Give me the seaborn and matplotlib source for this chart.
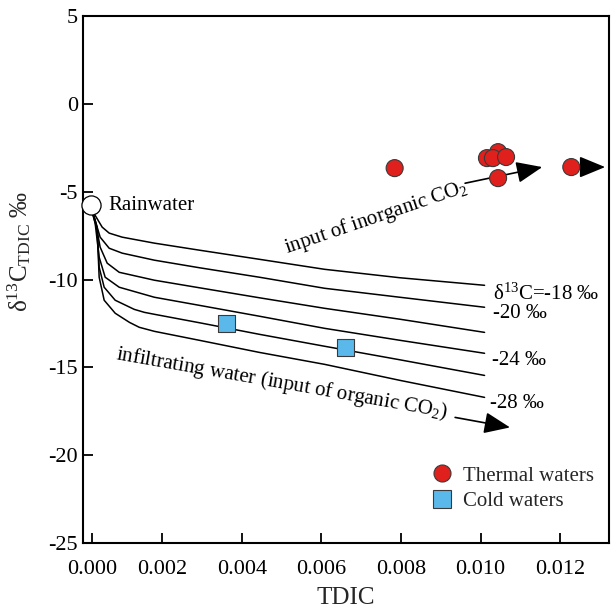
import matplotlib
matplotlib.use("Agg")
import matplotlib.pyplot as plt
import pandas as pd
import seaborn as sns

# thermal waters (red circles)
thermal_tdic = [0.00784, 0.01016, 0.01044, 0.01031, 0.01064, 0.01044, 0.01228]
thermal_d13c = [-3.66, -3.09, -2.75, -3.09, -3.03, -4.23, -3.60]

# cold waters (blue squares)
cold_tdic = [0.00361, 0.00661]
cold_d13c = [-12.49, -13.86]

# rainwater end member
rain_tdic = [0.00021]
rain_d13c = [-5.77]

# mixing curves, one per source d13C
curve_labels = ["-18", "-20", "-22", "-24", "-26", "-28"]
curve_x = [
    [0.00022, 0.000489, 0.000665, 0.000992, 0.0018, 0.00293, 0.00444, 0.00608, 0.00797, 0.0101],
    [0.00022, 0.000287, 0.000438, 0.000665, 0.000992, 0.0018, 0.00293, 0.00444, 0.00608, 0.00797, 0.0101],
    [0.00022, 0.000312, 0.000438, 0.000615, 0.000917, 0.0018, 0.00293, 0.00444, 0.00608, 0.00797, 0.0101],
    [0.00022, 0.000312, 0.000413, 0.000564, 0.000917, 0.0018, 0.00293, 0.00444, 0.00608, 0.00797, 0.0101],
    [0.00022, 0.000363, 0.000413, 0.000539, 0.000816, 0.001295, 0.00155, 0.0018, 0.00293, 0.00444, 0.00608, 0.00797, 0.0101],
    [0.00022, 0.000363, 0.000413, 0.000539, 0.000816, 0.001174, 0.00142, 0.0018, 0.00293, 0.00444, 0.00608, 0.00797, 0.0101],
]
curve_y = [
    [-6.0, -7.02, -7.36, -7.59, -7.93, -8.33, -8.85, -9.42, -9.90, -10.33],
    [-6.0, -6.45, -7.59, -8.22, -8.50, -8.90, -9.33, -9.87, -10.50, -11.01, -11.58],
    [-6.0, -6.62, -8.16, -9.07, -9.59, -10.04, -10.47, -11.04, -11.64, -12.26, -13.01],
    [-6.0, -6.79, -8.73, -9.87, -10.44, -11.01, -11.47, -12.09, -12.78, -13.46, -14.20],
    [-6.0, -7.02, -9.30, -10.44, -11.18, -11.70, -11.87, -11.98, -12.46, -13.12, -13.80, -14.57, -15.46],
    [-6.0, -7.19, -9.87, -11.18, -11.92, -12.44, -12.72, -12.95, -13.46, -14.15, -14.83, -15.74, -16.71],
]

x_ticks = [0.000237, 0.002, 0.004, 0.006, 0.008, 0.010, 0.012]
x_tick_labels = ["0.000", "0.002", "0.004", "0.006", "0.008", "0.010", "0.012"]
y_ticks = [5, 0, -5, -10, -15, -20, -25]

sns.set_theme(style="ticks")
plt.rcParams["font.family"] = ["Liberation Serif", "DejaVu Serif"]
plt.rcParams["mathtext.fontset"] = "custom"
plt.rcParams["mathtext.rm"] = "Liberation Serif"
plt.rcParams["mathtext.it"] = "Liberation Serif:italic"
plt.rcParams["axes.unicode_minus"] = False

fig = plt.figure(figsize=(6.16, 6.10), dpi=100)
ax = fig.add_axes([0.1343, 0.1098, 0.8543, 0.864])

curves = pd.concat(
    [pd.DataFrame({"curve": lab, "tdic": xs, "d13c": ys})
     for lab, xs, ys in zip(curve_labels, curve_x, curve_y)],
    ignore_index=True,
)
sns.lineplot(data=curves, x="tdic", y="d13c", units="curve", estimator=None,
             sort=False, color="black", lw=1.1, ax=ax, legend=False)

samples = pd.concat([
    pd.DataFrame({"tdic": thermal_tdic, "d13c": thermal_d13c, "type": "Thermal waters"}),
    pd.DataFrame({"tdic": cold_tdic, "d13c": cold_d13c, "type": "Cold waters"}),
], ignore_index=True)
sns.scatterplot(data=samples, x="tdic", y="d13c", hue="type", style="type",
                palette={"Thermal waters": "#e0201c", "Cold waters": "#5ab9ea"},
                markers={"Thermal waters": "o", "Cold waters": "s"},
                s=150, edgecolor="#3a3a3a", linewidth=0.8, ax=ax, zorder=4)
ax.scatter(rain_tdic, rain_d13c, s=190, facecolor="white", edgecolor="black",
           linewidth=0.9, zorder=5, clip_on=False)

ax.set_xlim(0, 0.013227)
ax.set_ylim(-25, 5)
ax.set_xticks(x_ticks)
ax.set_xticklabels(x_tick_labels)
ax.set_yticks(y_ticks)
ax.tick_params(direction="in", length=7, width=1.3, labelsize=16, colors="black")
ax.tick_params(axis="x", pad=12)
for side in ["left", "bottom", "top", "right"]:
    ax.spines[side].set_visible(True)
    ax.spines[side].set_linewidth(1.5)
    ax.spines[side].set_color("black")

ax.set_xlabel("TDIC", fontsize=18, labelpad=6)
ax.set_ylabel(r"δ$^{\mathrm{13}}$C$_{\mathrm{TDIC}}$ ‰", fontsize=18)
ax.yaxis.set_label_coords(-0.095, 0.553)

txt = dict(fontsize=15, color="black")
ax.text(0.00064, -5.77, "Rainwater", ha="left", va="center", **txt)
ax.text(0.01031, -10.84, r"δ$^{\mathrm{13}}$C=-18 ‰", ha="left", va="center", **txt)
ax.text(0.01031, -11.92, "-20 ‰", ha="left", va="center", **txt)
ax.text(0.01029, -14.60, "-24 ‰", ha="left", va="center", **txt)
ax.text(0.01024, -17.05, "-28 ‰", ha="left", va="center", **txt)
ax.text(0.00737, -6.45, r"input of inorganic CO$_2$", ha="center", va="center",
        rotation=18.8, rotation_mode="anchor", **txt)
ax.text(0.0050, -15.91, r"infiltrating water (input of organic CO$_2$)",
        ha="center", va="center", rotation=-10, rotation_mode="anchor", **txt)

arrow = dict(arrowstyle="-|>,head_length=0.8,head_width=0.33", color="black",
             lw=1.2, mutation_scale=20, shrinkA=0, shrinkB=0)
ax.annotate("", xy=(0.01155, -3.60), xytext=(0.00961, -4.52), arrowprops=arrow)
ax.annotate("", xy=(0.01313, -3.60), xytext=(0.0125, -3.60), arrowprops=arrow)
ax.annotate("", xy=(0.01074, -18.42), xytext=(0.00936, -17.85), arrowprops=arrow)

handles, labels = ax.get_legend_handles_labels()
ax.legend(handles, labels, loc="center left", bbox_to_anchor=(0.628, 0.103),
          frameon=False, fontsize=15, handlelength=1.0, handletextpad=0.5,
          labelspacing=0.3, markerscale=1.0)

fig.savefig("out.png", dpi=100)
